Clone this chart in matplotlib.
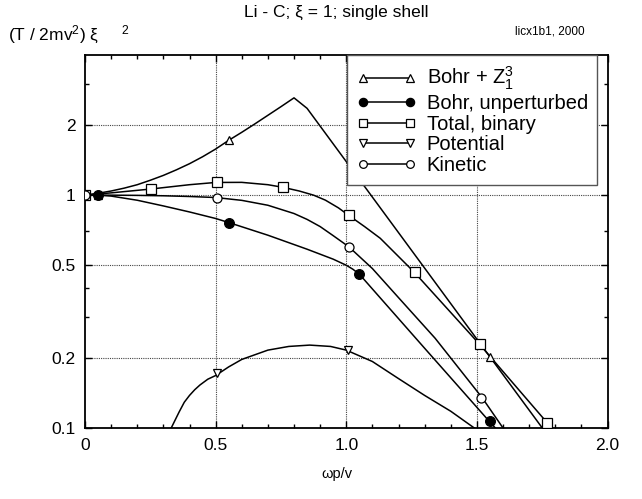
import matplotlib
matplotlib.use("Agg")
import matplotlib.pyplot as plt
from matplotlib.ticker import FixedLocator, FixedFormatter, NullFormatter

plt.rcParams['font.family'] = ['Liberation Sans', 'DejaVu Sans']
plt.rcParams['mathtext.fontset'] = 'custom'
plt.rcParams['mathtext.rm'] = 'Liberation Sans'
plt.rcParams['mathtext.it'] = 'Liberation Sans:italic'

# curves
bohrz_x = [0, 0.05, 0.1, 0.15, 0.2, 0.25, 0.3, 0.35, 0.4, 0.45, 0.5, 0.55, 0.6, 0.65, 0.7, 0.75, 0.8, 0.85, 1.55, 1.8]
bohrz_y = [1.0, 1.019, 1.042, 1.072, 1.109, 1.159, 1.216, 1.285, 1.365, 1.462, 1.578, 1.72,
           1.862, 2.023, 2.203, 2.399, 2.618, 2.36, 0.202, 0.084]
bohrz_mx = [0.05, 0.55, 1.05, 1.55]
bohrz_my = [1.0, 1.72, 1.16, 0.202]

bohr_x = [0, 0.05, 0.1, 0.2, 0.3, 0.4, 0.5, 0.55, 0.7, 0.85, 0.95, 1.0, 1.025, 1.05, 1.3, 1.55, 1.6]
bohr_y = [1.0, 1.0, 0.991, 0.951, 0.899, 0.847, 0.794, 0.763, 0.673, 0.586, 0.531, 0.50, 0.481,
          0.458, 0.220, 0.106, 0.092]
bohr_mx = [0.05, 0.55, 1.05, 1.55]
bohr_my = [1.0, 0.763, 0.458, 0.107]

total_x = [0, 0.1, 0.25, 0.4, 0.5, 0.6, 0.7, 0.757, 0.82, 0.875, 0.92, 0.97, 1.01, 1.07, 1.13, 1.26,
           1.51, 1.77, 1.8]
total_y = [1.0, 1.023, 1.062, 1.109, 1.134, 1.135, 1.109, 1.081, 1.042, 1.0, 0.952, 0.882, 0.818,
           0.733, 0.653, 0.467, 0.229, 0.105, 0.096]
total_mx = [0, 0.252, 0.507, 0.757, 1.01, 1.262, 1.512, 1.769]
total_my = [1.0, 1.062, 1.134, 1.081, 0.818, 0.467, 0.229, 0.105]

pot_x = [0.31, 0.33, 0.36, 0.38, 0.4, 0.42, 0.44, 0.47, 0.5, 0.55, 0.6, 0.7, 0.78, 0.86, 0.94, 1.0,
         1.1, 1.2, 1.3, 1.4, 1.49, 1.55]
pot_y = [0.088, 0.100, 0.117, 0.129, 0.138, 0.146, 0.153, 0.162, 0.168, 0.183, 0.197, 0.216, 0.224,
         0.227, 0.224, 0.216, 0.193, 0.163, 0.138, 0.118, 0.100, 0.09]
pot_mx = [0.505, 1.005]
pot_my = [0.172, 0.216]

kin_x = [0, 0.1, 0.2, 0.3, 0.4, 0.5, 0.6, 0.7, 0.8, 0.85, 0.9, 0.95, 1.01, 1.1, 1.2, 1.34, 1.52,
         1.6, 1.63]
kin_y = [1.0, 1.0, 0.998, 0.994, 0.987, 0.977, 0.95, 0.905, 0.834, 0.787, 0.733, 0.670, 0.60,
         0.484, 0.363, 0.243, 0.135, 0.1, 0.091]
kin_mx = [0, 0.505, 1.01, 1.515]
kin_my = [1.0, 0.977, 0.60, 0.135]

x_ticks = [0, 0.5, 1.0, 1.5, 2.0]
x_labels = ['0', '0.5', '1.0', '1.5', '2.0']
y_ticks = [0.1, 0.2, 0.5, 1, 2]
y_labels = ['0.1', '0.2', '0.5', '1', '2']

fig = plt.figure(figsize=(6.42, 4.99), dpi=100)
ax = fig.add_axes([0.1324, 0.1423, 0.8139, 0.7475])

series = [
    ('Bohr + Z$_1^3$', bohrz_x, bohrz_y, bohrz_mx, bohrz_my, '^', 'white', 6),
    ('Bohr, unperturbed', bohr_x, bohr_y, bohr_mx, bohr_my, 'o', 'black', 7),
    ('Total, binary', total_x, total_y, total_mx, total_my, 's', 'white', 6.5),
    ('Potential', pot_x, pot_y, pot_mx, pot_my, 'v', 'white', 6),
    ('Kinetic', kin_x, kin_y, kin_mx, kin_my, 'o', 'white', 6.5),
]

handles = []
for label, cx, cy, mx, my, mk, fc, ms in series:
    ax.plot(cx, cy, color='black', lw=1.1, zorder=3)
    ax.plot(mx, my, ls='none', marker=mk, ms=ms, mfc=fc, mec='black', mew=0.9, zorder=4)
    h, = ax.plot([], [], color='black', lw=1.1, marker=mk, ms=ms * 0.85, mfc=fc, mec='black', mew=0.9)
    handles.append(h)

ax.set_yscale('log')
ax.set_xlim(0, 2.0)
ax.set_ylim(0.1, 4.0)

ax.xaxis.set_major_locator(FixedLocator(x_ticks))
ax.xaxis.set_major_formatter(FixedFormatter(x_labels))
ax.xaxis.set_minor_locator(FixedLocator([i / 10 for i in range(21)]))
ax.yaxis.set_major_locator(FixedLocator(y_ticks))
ax.yaxis.set_major_formatter(FixedFormatter(y_labels))
ax.yaxis.set_minor_locator(FixedLocator([0.3, 0.4, 0.7, 3]))
ax.yaxis.set_minor_formatter(NullFormatter())

ax.tick_params(which='both', direction='in', top=True, right=True, labelsize=12.5, width=1)
ax.tick_params(which='major', length=5, pad=7)
ax.tick_params(which='minor', length=3)

for s in ax.spines.values():
    s.set_linewidth(1.3)

for v in [0.5, 1.0, 1.5]:
    ax.axvline(v, color='#444444', ls=(0, (1, 1)), lw=0.8, zorder=1)
for v in [0.2, 0.5, 1, 2]:
    ax.axhline(v, color='#444444', ls=(0, (1, 1)), lw=0.8, zorder=1)

leg = ax.legend(handles, [s[0] for s in series], loc='upper left',
                bbox_to_anchor=(0.502, 0.6, 0.477, 0.4), mode='expand',
                fontsize=14.5, numpoints=2,
                handlelength=2.9, handletextpad=0.55, labelspacing=0.08,
                borderpad=0.5, borderaxespad=0, fancybox=False, framealpha=1,
                edgecolor='#555555')
leg.get_frame().set_linewidth(1.0)
leg.set_zorder(5)

fig.text(0.524, 0.976, 'Li - C; ξ = 1; single shell', ha='center', va='center', fontsize=12.5)
fig.text(0.013, 0.93, '(T / 2mv$^2$) ξ     $^2$', ha='left', va='center', fontsize=12.5)
fig.text(0.802, 0.936, 'licx1b1, 2000', ha='left', va='center', fontsize=8.5)
fig.text(0.525, 0.05, 'ωp/v', ha='center', va='center', fontsize=10.5)

fig.savefig('out.png', dpi=100)
